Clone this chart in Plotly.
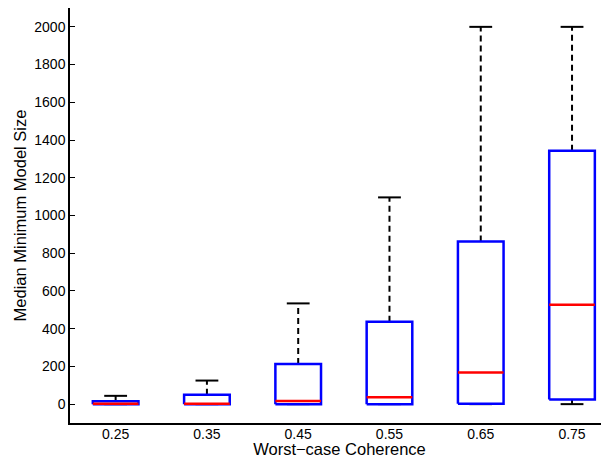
import plotly.graph_objects as go

categories = ["0.25", "0.35", "0.45", "0.55", "0.65", "0.75"]
lower_whisker = [0, 0, 0, 0, 0, 0]
q1 = [0, 0, 0, 0, 2, 25]
median = [2, 2, 17, 37, 168, 527]
q3 = [15, 50, 213, 437, 862, 1343]
upper_whisker = [44, 125, 534, 1096, 2000, 2000]
y_ticks = [0, 200, 400, 600, 800, 1000, 1200, 1400, 1600, 1800, 2000]

BOX_HALF = 0.25
CAP_HALF = 0.125
pos = list(range(1, len(categories) + 1))

fig = go.Figure()

def add_line(xs, ys, color, dash="solid", width=2):
    fig.add_trace(go.Scatter(x=xs, y=ys, mode="lines", showlegend=False,
                             hoverinfo="skip",
                             line=dict(color=color, width=width, dash=dash)))

for i, p in enumerate(pos):
    add_line([p, p], [q3[i], upper_whisker[i]], "black", dash="6px,4px")
    add_line([p, p], [lower_whisker[i], q1[i]], "black", dash="6px,4px")
    add_line([p - CAP_HALF, p + CAP_HALF], [upper_whisker[i]] * 2, "black")
    add_line([p - CAP_HALF, p + CAP_HALF], [lower_whisker[i]] * 2, "black")

for i, p in enumerate(pos):
    add_line([p - BOX_HALF, p + BOX_HALF, p + BOX_HALF, p - BOX_HALF, p - BOX_HALF],
             [q1[i], q1[i], q3[i], q3[i], q1[i]], "#0000ff", width=2.5)
for i, p in enumerate(pos):
    add_line([p - BOX_HALF, p + BOX_HALF], [median[i]] * 2, "#ff0000", width=2.5)

font_family = "Liberation Sans, Arial, Helvetica, sans-serif"

fig.update_layout(
    width=601, height=450,
    margin=dict(l=62, r=0, t=0, b=35, autoexpand=False),
    paper_bgcolor="white", plot_bgcolor="white",
    font=dict(family=font_family, size=14, color="black"),
    xaxis=dict(
        range=[0.5, 6.405],
        tickmode="array", tickvals=pos, ticktext=categories,
        ticks="", showgrid=False, zeroline=False, automargin=False,
        showline=True, linecolor="black", linewidth=1.5, mirror=True,
        ticklabelstandoff=-3,
        title=dict(text="Worst−case Coherence", font=dict(size=16.5), standoff=0),
        tickfont=dict(size=14),
    ),
    yaxis=dict(
        range=[-100, 2100],
        tickmode="array", tickvals=y_ticks,
        ticks="inside", ticklen=5, tickcolor="black", tickwidth=1,
        showgrid=False, zeroline=False, automargin=False,
        showline=True, linecolor="black", linewidth=1.5, mirror="ticks",
        title=dict(text="Median Minimum Model Size", font=dict(size=16.5), standoff=4),
        tickfont=dict(size=14),
    ),
)

fig.write_html("out.html")
